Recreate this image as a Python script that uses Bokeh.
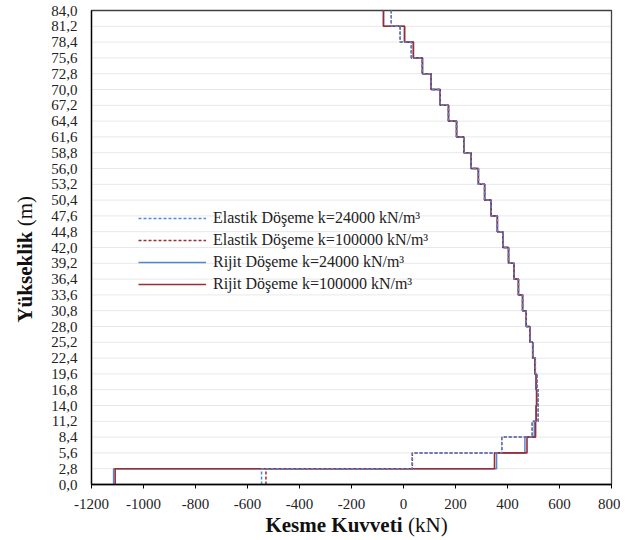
import math
from bokeh.plotting import figure
from bokeh.models import FixedTicker, Legend, LegendItem, Label, Range1d
from bokeh.embed import file_html
from bokeh.resources import INLINE

# Storey levels (m) and tick labels
y_ticks = [0.0, 2.8, 5.6, 8.4, 11.2, 14.0, 16.8, 19.6, 22.4, 25.2, 28.0, 30.8, 33.6, 36.4, 39.2,
           42.0, 44.8, 47.6, 50.4, 53.2, 56.0, 58.8, 61.6, 64.4, 67.2, 70.0, 72.8, 75.6, 78.4, 81.2, 84.0]
y_tick_labels = ["0,0", "2,8", "5,6", "8,4", "11,2", "14,0", "16,8", "19,6", "22,4", "25,2", "28,0",
                 "30,8", "33,6", "36,4", "39,2", "42,0", "44,8", "47,6", "50,4", "53,2", "56,0",
                 "58,8", "61,6", "64,4", "67,2", "70,0", "72,8", "75,6", "78,4", "81,2", "84,0"]
x_ticks = [-1200, -1000, -800, -600, -400, -200, 0, 200, 400, 600, 800]
x_tick_labels = ["-1200", "-1000", "-800", "-600", "-400", "-200", "0", "200", "400", "600", "800"]

# Storey shear (kN), storey 1 (bottom) -> storey 30 (top)
elastik_24000 = [-546, 33, 378, 495, 518, 518, 514, 507, 497, 486, 472, 458, 442, 425, 404,
                 382, 361, 337, 312, 288, 260, 232, 204, 173, 141, 106, 72, 30, -13, -47]
elastik_100000 = [-529, 34, 378, 495, 518, 518, 514, 507, 497, 486, 472, 458, 442, 425, 404,
                  382, 361, 337, 312, 288, 260, 232, 204, 173, 141, 106, 72, 30, -13, -47]
rijit_24000 = [-1115, 358, 467, 503, 510, 512, 510, 505, 497, 486, 472, 458, 442, 425, 404,
               382, 361, 337, 312, 288, 260, 232, 204, 173, 141, 106, 73, 38, 4, -77]
rijit_100000 = [-1109, 350, 475, 508, 510, 512, 510, 505, 497, 486, 472, 458, 442, 425, 404,
                382, 361, 337, 312, 288, 260, 232, 204, 173, 141, 106, 73, 38, 4, -77]

series_labels = ["Elastik Döşeme k=24000 kN/m³", "Elastik Döşeme k=100000 kN/m³",
                 "Rijit Döşeme k=24000 kN/m³", "Rijit Döşeme k=100000 kN/m³"]

BLUE = "#4f88d6"
RED = "#9e2b2e"
FONT = "Liberation Serif"

# Canvas / plotting-area layout in pixels
W, H = 620, 538
AREA_L, AREA_R, AREA_T, AREA_B = 91, 611, 10, 484
xmin, xmax = x_ticks[0], x_ticks[-1]
ymin, ymax = y_ticks[0], y_ticks[-1]
kx = (AREA_R - AREA_L) / (xmax - xmin)
ky = (AREA_B - AREA_T) / (ymax - ymin)


def dx(px):
    return xmin + (px - AREA_L) / kx


def dy(py):
    return ymin + (AREA_B - py) / ky


def step_path(vals):
    xs, ys = [], []
    for i, v in enumerate(vals):
        xs += [v, v]
        ys += [y_ticks[i], y_ticks[i + 1]]
    return xs, ys


p = figure(width=W, height=H, x_range=Range1d(dx(0), dx(W)), y_range=Range1d(dy(H), dy(0)),
           output_backend="svg", toolbar_location=None,
           min_border_left=0, min_border_right=0, min_border_top=0, min_border_bottom=0)

p.outline_line_color = None
p.background_fill_color = "white"
p.border_fill_color = "white"
p.xgrid.visible = False
p.ygrid.visible = False

# horizontal gridlines at the storey levels, limited to the plotting area
p.segment(x0=xmin, x1=xmax, y0=y_ticks, y1=y_ticks, line_color="#e8e8e8", line_width=1)
# plot-area border
p.quad(left=[xmin], right=[xmax], bottom=[ymin], top=[ymax], fill_color=None,
       line_color="#404040", line_width=1.3)

p.xaxis.ticker = FixedTicker(ticks=x_ticks)
p.xaxis.major_label_overrides = dict(zip(x_ticks, x_tick_labels))
p.yaxis.ticker = FixedTicker(ticks=y_ticks)
p.yaxis.major_label_overrides = dict(zip(y_ticks, y_tick_labels))
p.xaxis.fixed_location = ymin
p.yaxis.fixed_location = xmin
p.xaxis.bounds = (xmin, xmax)
p.yaxis.bounds = (ymin, ymax)

for ax in (p.xaxis[0], p.yaxis[0]):
    ax.axis_line_color = "black"
    ax.axis_line_width = 1.3
    ax.minor_tick_line_color = None
    ax.major_label_text_font = FONT
    ax.major_label_text_font_size = "15px"
    ax.major_label_text_color = "#222222"

p.xaxis.major_tick_line_color = "black"
p.xaxis.major_tick_out = 4
p.xaxis.major_tick_in = 0
p.xaxis.major_label_standoff = 10
p.yaxis.major_tick_line_color = None
p.yaxis.major_tick_out = 0
p.yaxis.major_tick_in = 0
p.yaxis.major_label_standoff = 14

xs, ys = step_path(rijit_24000)
r_rb = p.line(xs, ys, line_color=BLUE, line_width=1.5)
xs, ys = step_path(rijit_100000)
r_rr = p.line(xs, ys, line_color=RED, line_width=1.6)
xs, ys = step_path(elastik_100000)
r_er = p.line(xs, ys, line_color=RED, line_width=1.5, line_dash="3 2")
xs, ys = step_path(elastik_24000)
r_eb = p.line(xs, ys, line_color=BLUE, line_width=1.5, line_dash="3 2")

legend = Legend(items=[LegendItem(label=series_labels[0], renderers=[r_eb]),
                       LegendItem(label=series_labels[1], renderers=[r_er]),
                       LegendItem(label=series_labels[2], renderers=[r_rb]),
                       LegendItem(label=series_labels[3], renderers=[r_rr])],
                location=(138, H - 295), padding=0, margin=0, spacing=0,
                glyph_width=68, glyph_height=22, label_height=22, label_standoff=7,
                label_text_font=FONT, label_text_font_size="16px", label_text_color="#222222",
                border_line_color=None, background_fill_alpha=0)
p.add_layout(legend)

# Axis titles (bold part + regular unit); anchors at the cap-height centre line
p.add_layout(Label(x=dx(402), y=dy(524.5), text="Kesme Kuvveti", text_font=FONT,
                   text_font_style="bold", text_font_size="21px", text_align="right",
                   text_baseline="middle", text_color="#111111"))
p.add_layout(Label(x=dx(407.5), y=dy(524.5), text="(kN)", text_font=FONT,
                   text_font_style="normal", text_font_size="21px", text_align="left",
                   text_baseline="middle", text_color="#111111"))
p.add_layout(Label(x=dx(24.7), y=dy(231), text="Yükseklik", text_font=FONT,
                   text_font_style="bold", text_font_size="21px", text_align="right",
                   text_baseline="middle", angle=math.pi / 2, text_color="#111111"))
p.add_layout(Label(x=dx(24.7), y=dy(225.8), text="(m)", text_font=FONT,
                   text_font_style="normal", text_font_size="21px", text_align="left",
                   text_baseline="middle", angle=math.pi / 2, text_color="#111111"))

open("out.html", "w").write(file_html(p, INLINE))
